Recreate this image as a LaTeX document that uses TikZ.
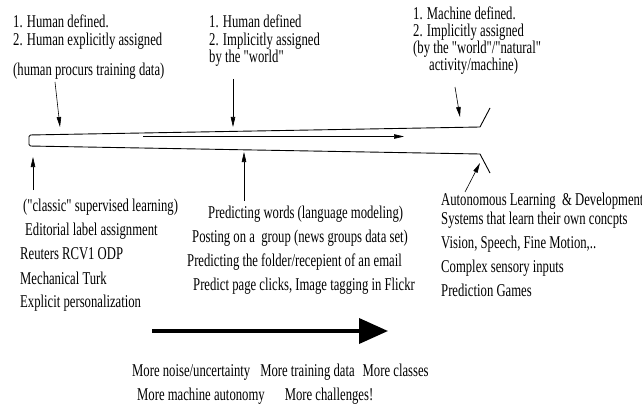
\documentclass[tikz,border=0pt]{standalone}
\usepackage{fontspec}
\setmainfont{Liberation Serif}[FakeStretch=0.705, Ligatures=TeXOff]
\usetikzlibrary{arrows.meta}
\tikzset{
  lbl/.style={anchor=base west, inner sep=0pt, font=\fontsize{18}{19}\selectfont},
  tarrow/.style={-{Triangle[length=10pt,width=4.5pt]}, line width=0.6pt},
  tube/.style={line width=0.9pt},
  bigarrow/.style={-{Triangle[length=29pt,width=25pt]}, line width=3.8pt}
}
\begin{document}
\begin{tikzpicture}[x=1pt,y=-1pt]
\useasboundingbox (0,0) rectangle (642,409);
% top-left block
\node[lbl] (tl1) at (13,28) {1. Human defined.};
\node[lbl] (tl2) at (13,46) {2. Human explicitly assigned};
\node[lbl] (tl3) at (13,76) {(human procurs training data)};
% top-middle block
\node[lbl] (tm1) at (209,28) {1. Human defined};
\node[lbl] (tm2) at (209,46) {2. Implicitly assigned};
\node[lbl] (tm3) at (209,63) {by the "world"};
% top-right block
\node[lbl] (tr1) at (413,20) {1. Machine defined.};
\node[lbl] (tr2) at (413,37) {2. Implicitly assigned};
\node[lbl] (tr3) at (413,54) {(by the "world"/"natural"};
\node[lbl] (tr4) at (429,71) {activity/machine)};
% tube
\coordinate (tubeTR) at (480,127);
\coordinate (tubeBR) at (480,154);
\coordinate (tubeTL) at (29,135);
\coordinate (tubeBL) at (29,146);
\coordinate (flareT) at (490,108);
\coordinate (flareB) at (490,173);
\draw[tube, rounded corners=1.5pt] (tubeTR) -- (tubeTL) -- (tubeBL) -- (tubeBR);
\draw[tube] (tubeTR) -- (flareT);
\draw[tube] (tubeBR) -- (flareB);
% inner arrow
\coordinate (inS) at (143,136.5);
\coordinate (inE) at (404,136.5);
\draw[tarrow] (inS) -- (inE);
% arrows pointing to the tube
\coordinate (a1s) at (55,82);
\coordinate (a1e) at (60,127);
\draw[tarrow] (a1s) -- (a1e);
\coordinate (a2s) at (33,190);
\coordinate (a2e) at (33,157);
\draw[tarrow] (a2s) -- (a2e);
\coordinate (a3s) at (233,79);
\coordinate (a3e) at (233,127);
\draw[tarrow] (a3s) -- (a3e);
\coordinate (a4s) at (244,201);
\coordinate (a4e) at (244,152);
\draw[tarrow] (a4s) -- (a4e);
\coordinate (a5s) at (455,87);
\coordinate (a5e) at (460,117);
\draw[tarrow] (a5s) -- (a5e);
\coordinate (a6s) at (465,192);
\coordinate (a6e) at (480,163);
\draw[tarrow] (a6s) -- (a6e);
% left list
\node[lbl] (l1) at (23,211) {("classic" supervised learning)};
\node[lbl] (l2) at (25,235) {Editorial label assignment};
\node[lbl] (l3) at (20,259) {Reuters RCV1 ODP};
\node[lbl] (l4) at (20,284) {Mechanical Turk};
\node[lbl] (l5) at (20,307) {Explicit personalization};
% middle list
\node[lbl] (m1) at (208,218) {Predicting words (language modeling)};
\node[lbl] (m2) at (192,242) {Posting on a\ \ group (news groups data set)};
\node[lbl] (m3) at (187,266) {Predicting the folder/recepient of an email};
\node[lbl] (m4) at (193,290) {Predict page clicks, Image tagging in Flickr};
% right list
\node[lbl] (r1) at (441,205) {Autonomous Learning\ \ \& Development};
\node[lbl] (r2) at (441,224) {Systems that learn their own concpts};
\node[lbl] (r3) at (441,248) {Vision, Speech, Fine Motion,..};
\node[lbl] (r4) at (441,272) {Complex sensory inputs};
\node[lbl] (r5) at (441,296) {Prediction Games};
% big arrow
\coordinate (bigS) at (152,331);
\coordinate (bigE) at (388,331);
\draw[bigarrow] (bigS) -- (bigE);
% bottom texts
\node[lbl] (b1) at (132,376) {More noise/uncertainty\hspace{10pt}More training data\hspace{8pt}More classes};
\node[lbl] (b2) at (137,400) {More machine autonomy\hspace{20pt}More challenges!};
\end{tikzpicture}
\end{document}
